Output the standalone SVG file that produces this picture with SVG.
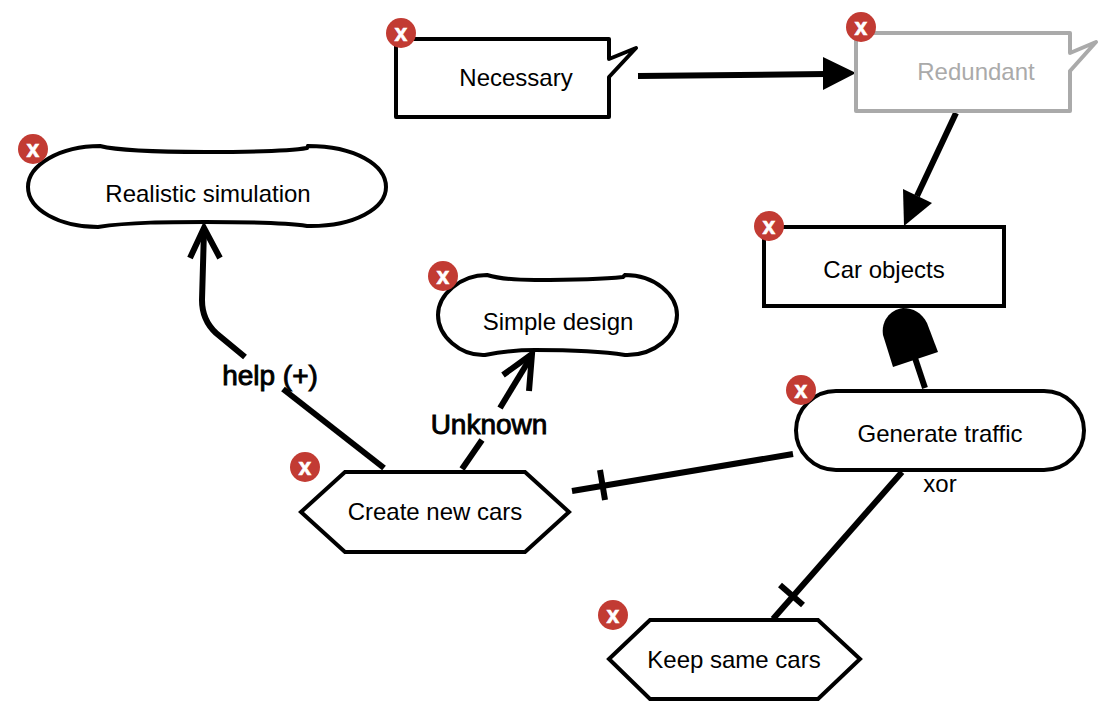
<svg xmlns="http://www.w3.org/2000/svg" width="1108" height="722" viewBox="0 0 1108 722">
<style>
text{font-family:"Liberation Sans",Arial,sans-serif;font-size:24px;fill:#000;text-anchor:middle}
.n{fill:#fff;stroke:#000;stroke-width:4}
.g{fill:#fff;stroke:#aaa;stroke-width:4}
.b{stroke-linejoin:round}
.c{fill:none;stroke:#000;stroke-width:6}
.f{fill:#000;stroke:none}
.lb{font-size:28px;stroke:#000;stroke-width:.9}
.bd{fill:#c23b33}
.bx{font-size:23px;font-weight:bold;fill:#fff;stroke:#fff;stroke-width:.6}
</style>
<g id="connectors">
<path class="c" d="M638 76L826 74"/><path class="f" d="M823 57L856 73L823 90Z"/>
<path class="c" d="M956 113L917 196"/><path class="f" d="M904 226L903 189L932 203Z"/>
<path class="c" d="M384 468L283 389"/>
<path class="c" d="M245 357L216 333Q202 320 202 300L204 230"/>
<path class="c" d="M190 258L204 228L220 258"/>
<path class="c" d="M462 469L482 440"/>
<path class="c" d="M500 408L531 357"/>
<path class="c" d="M503 375L532 354L529 391"/>
<path class="c" d="M925 388L915 358"/>
<path class="f" d="M893 367L938 352L927 323C922 313 913 308 903 308C889 310 881 322 883 335Z"/>
<path class="c" d="M572 491L793 454"/><path class="c" d="M600 470L605 500"/>
<path class="c" d="M902 472L773 619"/><path class="c" d="M780 585L803 605"/>
</g>
<g id="necessary">
<path class="n b" d="M396 39H609V59L636 48L609 77V117H396Z"/>
<text x="516" y="86">Necessary</text>
<circle class="bd" cx="401" cy="33" r="15"/><text class="bx" x="401" y="41">x</text>
</g>
<g id="redundant">
<path class="g b" d="M856 33H1070V53L1096 42L1070 71V111H856Z"/>
<text x="976" y="80" style="fill:#aaa">Redundant</text>
<circle class="bd" cx="861" cy="27" r="15"/><text class="bx" x="861" y="35">x</text>
</g>
<g id="realistic">
<path class="n" d="M100 146C120 151 160 152 205 152C250 152 290 151 307 148L308 146C355 146 386 165 386 187C386 208 355 227 307 226C280 222 240 222 205 222C170 222 130 222 98 227C60 227 28 210 28 187C28 165 60 146 100 146Z"/>
<text x="208" y="202">Realistic simulation</text>
<circle class="bd" cx="33" cy="149" r="15"/><text class="bx" x="33" y="157">x</text>
</g>
<g id="simple">
<path class="n" d="M487 275C500 279 520 280 535 280C570 280 605 279 623 277L625 275C655 275 677 295 677 315C677 335 655 356 625 355C600 351 570 350 535 350C520 350 500 352 485 355C460 356 438 336 438 315C438 295 460 275 487 275Z"/>
<text x="558" y="330">Simple design</text>
<circle class="bd" cx="443" cy="276" r="15"/><text class="bx" x="443" y="284">x</text>
</g>
<g id="car">
<rect class="n" x="764" y="227" width="240" height="79"/>
<text x="884" y="278">Car objects</text>
<circle class="bd" cx="769" cy="226" r="15"/><text class="bx" x="769" y="234">x</text>
</g>
<g id="generate">
<rect class="n" x="796" y="391" width="288" height="79" rx="40" ry="40"/>
<text x="940" y="442">Generate traffic</text>
<circle class="bd" cx="801" cy="390" r="15"/><text class="bx" x="801" y="398">x</text>
</g>
<g id="create">
<path class="n" d="M301 512L345 472H525L569 512L525 552H345Z"/>
<text x="435" y="520">Create new cars</text>
<circle class="bd" cx="305" cy="467" r="15"/><text class="bx" x="305" y="475">x</text>
</g>
<g id="keep">
<path class="n" d="M609 659L650 620H818L860 659L818 699H650Z"/>
<text x="734" y="668">Keep same cars</text>
<circle class="bd" cx="613" cy="615" r="15"/><text class="bx" x="613" y="623">x</text>
</g>
<g id="labels">
<text class="lb" x="270" y="385">help (+)</text>
<text class="lb" x="489" y="434">Unknown</text>
<text x="940" y="492">xor</text>
</g>
</svg>
